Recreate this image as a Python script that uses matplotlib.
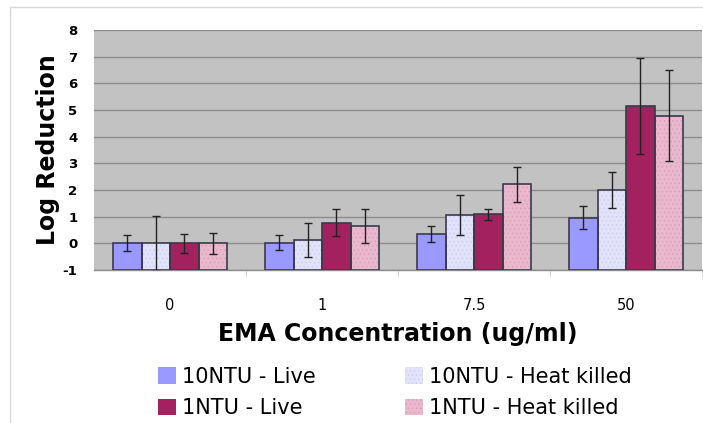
import matplotlib
matplotlib.use("Agg")
import matplotlib.pyplot as plt
import numpy as np
from matplotlib.patches import Patch, Rectangle

# EMA concentrations (ug/ml) on the x axis
concentrations = ["0", "1", "7.5", "50"]

# mean log reduction per series
live_10ntu = [0.0, 0.03, 0.34, 0.96]
heat_10ntu = [0.0, 0.12, 1.06, 2.0]
live_1ntu = [0.0, 0.78, 1.09, 5.15]
heat_1ntu = [0.0, 0.65, 2.21, 4.79]

# error bar half-widths
live_10ntu_err = [0.3, 0.28, 0.3, 0.43]
heat_10ntu_err = [1.03, 0.65, 0.76, 0.68]
live_1ntu_err = [0.35, 0.52, 0.2, 1.8]
heat_1ntu_err = [0.4, 0.62, 0.67, 1.72]

series_labels = ["10NTU - Live", "10NTU - Heat killed", "1NTU - Live", "1NTU - Heat killed"]

Y_MIN = -1


def main():
    plt.rcParams["font.family"] = ["DejaVu Sans"]
    plt.rcParams["hatch.linewidth"] = 0.6
    plt.rcParams["axes.unicode_minus"] = False

    fig = plt.figure(figsize=(7.03, 4.23), dpi=100)
    ax = fig.add_axes([94 / 703, 153 / 423, 608 / 703, 240 / 423])

    # thin frame around the chart area
    fig.patches.append(
        Rectangle((10 / 703, -0.1), 1.2, 1.1 - 7 / 423, transform=fig.transFigure,
                  facecolor="none", edgecolor="#d8d8d8", linewidth=1.0)
    )

    ax.set_facecolor("#c2c2c2")
    values = [live_10ntu, heat_10ntu, live_1ntu, heat_1ntu]
    errors = [live_10ntu_err, heat_10ntu_err, live_1ntu_err, heat_1ntu_err]
    fills = ["#9999ff", "#e2e2fa", "#a3215f", "#eab8cd"]
    dots = [None, "#cfcfee", None, "#d9a2ba"]

    x = np.arange(len(concentrations))
    width = 0.75 / 4
    for i in range(4):
        pos = x + (i - 1.5) * width
        # bars rise from the bottom of the value axis
        heights = np.array(values[i]) - Y_MIN
        ax.bar(pos, heights, width, bottom=Y_MIN, color=fills[i], zorder=2)
        if dots[i] is not None:
            ax.bar(pos, heights, width, bottom=Y_MIN, color="none", edgecolor=dots[i],
                   linewidth=0, hatch="....", zorder=2)
        ax.bar(pos, heights, width, bottom=Y_MIN, color="none", edgecolor="#3a3a4a",
               linewidth=1.2, zorder=3)
        ax.errorbar(pos, values[i], yerr=errors[i], fmt="none", ecolor="#222222",
                    elinewidth=1.0, capsize=3, capthick=1.0, zorder=4)

    ax.set_xlim(-0.5, 3.5)
    ax.set_ylim(Y_MIN, 8)
    ax.set_yticks(range(-1, 9))
    ax.yaxis.grid(True, color="#8c8c8c", linewidth=1.0, zorder=1)
    ax.set_axisbelow(True)
    for side in ["top", "right", "left"]:
        ax.spines[side].set_visible(False)
    ax.spines["bottom"].set_color("#8c8c8c")
    ax.spines["bottom"].set_linewidth(1.0)

    ax.set_xticks(x)
    ax.set_xticklabels(concentrations, fontsize=10.5)
    ax.set_xticks(np.arange(0.5, 4, 1), minor=True)
    ax.tick_params(axis="x", which="major", length=0, pad=20)
    ax.tick_params(axis="x", which="minor", length=5, color="#d0d0d0")
    ax.tick_params(axis="y", length=0, pad=12)
    for lab in ax.get_yticklabels():
        lab.set_fontweight("bold")
        lab.set_fontsize(9.5)

    ax.set_xlabel("EMA Concentration (ug/ml)", fontsize=17, fontweight="bold", labelpad=7)
    ax.set_ylabel("Log Reduction", fontsize=17, fontweight="bold", labelpad=2)

    handles = []
    for i in range(4):
        handles.append(Patch(facecolor=fills[i], edgecolor=dots[i] or fills[i],
                             linewidth=0, hatch="...." if dots[i] else None))
    order = [0, 2, 1, 3]
    fig.legend([handles[k] for k in order], [series_labels[k] for k in order],
               ncol=2, frameon=False, fontsize=15, loc="center left",
               bbox_to_anchor=(158 / 703, 1 - 392.5 / 423), handlelength=0.85,
               handleheight=0.85, handletextpad=0.3, columnspacing=4.3,
               labelspacing=0.55, borderpad=0, borderaxespad=0)

    fig.savefig("out.png", dpi=100)
    plt.close(fig)


if __name__ == "__main__":
    main()
